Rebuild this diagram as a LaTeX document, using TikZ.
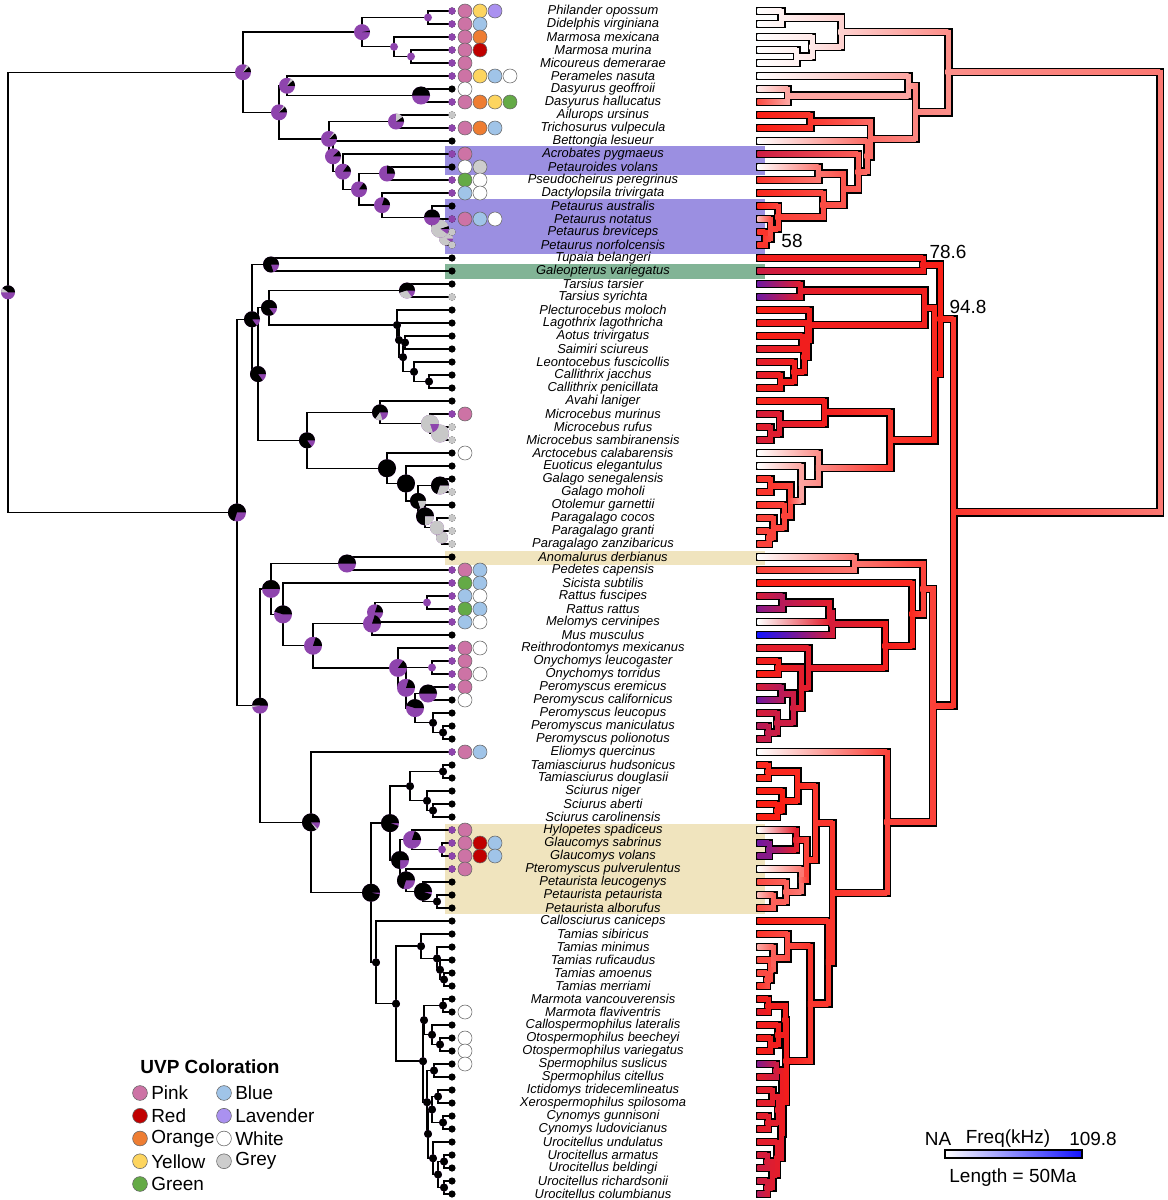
\documentclass[tikz,border=0pt]{standalone}
\usepackage{fontspec}
\setmainfont{Liberation Sans}
\usetikzlibrary{calc}

\definecolor{piepurple}{RGB}{142,68,173}
\definecolor{piegrey}{RGB}{200,200,200}
\definecolor{hred}{RGB}{250,30,20}
\definecolor{hblue}{RGB}{20,20,255}
\definecolor{upink}{RGB}{205,115,165}
\definecolor{ured}{RGB}{192,0,0}
\definecolor{uora}{RGB}{238,125,50}
\definecolor{uyel}{RGB}{253,213,95}
\definecolor{ugreen}{RGB}{100,170,70}
\definecolor{ublue}{RGB}{160,196,232}
\definecolor{ulav}{RGB}{170,145,240}
\definecolor{uwhite}{RGB}{255,255,255}
\definecolor{ugrey}{RGB}{205,205,205}
\definecolor{bandpurple}{RGB}{155,143,225}
\definecolor{bandgreen}{RGB}{130,180,150}
\definecolor{bandtan}{RGB}{240,228,190}

\tikzset{
  branch/.style={line width=1pt, line join=miter},
  treeout/.style={line width=6pt, line cap=rect, line join=miter},
  treein/.style={line width=3.56pt, line cap=rect},
  spname/.style={font=\fontsize{9.2}{11}\selectfont\itshape, inner sep=0pt},
  uvp/.style={draw=black!60, line width=0.4pt},
  lgtext/.style={font=\fontsize{13.5}{16}\selectfont, anchor=west, inner sep=0pt},
  numlab/.style={font=\fontsize{13.5}{16}\selectfont, inner sep=0pt},
}

% heat colour of a branch end: 0 white, 50 red, 100 blue
\newcommand\heat[2]{%
  \ifdim #2pt<50pt
    \pgfmathtruncatemacro\hv{2*#2}%
    \xglobal\colorlet{h#1}{hred!\hv!white}%
  \else
    \pgfmathtruncatemacro\hv{2*(#2-50)}%
    \xglobal\colorlet{h#1}{hblue!\hv!hred}%
  \fi}

% state pie: node, radius (px), black %, grey % (rest purple)
\newcommand\nodepie[4]{%
  \fill[piepurple] (#1) circle[radius=#2*0.25mm];
  \ifdim #3pt>0pt
    \fill[black] (#1) -- ++(0:#2*0.25mm) arc[start angle=0, delta angle=3.6*#3, radius=#2*0.25mm] -- cycle;
  \fi
  \ifdim #4pt>0pt
    \fill[piegrey] (#1) -- ++(3.6*#3:#2*0.25mm) arc[start angle=3.6*#3, delta angle=3.6*#4, radius=#2*0.25mm] -- cycle;
  \fi}

% one internal node: name, x, first child, last child, pie r, black, grey, heat
\newcommand\ndA[8]{%
  \path let \p1=(#3), \p2=(#4) in
    ($(#2,0)+(0pt,{0.5*(\y1+\y2)})$) coordinate (#1)
    ($({760+0.901*(452-#2)},0)+(0pt,{0.5*(\y1+\y2)})$) coordinate (r#1);
  \heat{#1}{#8}}
\newcommand\ndL[8]{\draw[branch] (#1) |- (#3) (#1) |- (#4);}
\newcommand\ndO[8]{\draw[treeout] (r#1) |- (r#3) (r#1) |- (r#4);}
\newcommand\ndI[8]{%
  \draw[treein, h#1] (r#1 |- r#3) -- (r#1 |- r#4);
  \shade[left color=h#3, right color=h#1] ($(r#3)+(-2.6,-2.5)$) rectangle ($(r#1 |- r#3)+(0,2.5)$);
  \shade[left color=h#4, right color=h#1] ($(r#4)+(-2.6,-2.5)$) rectangle ($(r#1 |- r#4)+(0,2.5)$);}
\newcommand\ndP[8]{\nodepie{#1}{#5}{#6}{#7}}

\newcommand\treedata{%
  % marsupials
  \nd{d45}{411}{t4}{t5}{4}{0}{0}{3}
  \nd{d345}{394}{t3}{d45}{4}{0}{0}{5}
  \nd{d12}{428}{t1}{t2}{4}{0}{0}{3}
  \nd{didel}{362}{d12}{d345}{8}{3}{0}{10}
  \nd{dasy}{421}{t7}{t8}{9}{50}{0}{20}
  \nd{peram}{287}{t6}{dasy}{8}{12}{5}{20}
  \nd{phal}{396}{t9}{t10}{8}{10}{15}{45}
  \nd{pet3}{446}{t18}{t19}{7}{0}{90}{45}
  \nd{pet2}{440}{t17}{pet3}{9}{5}{85}{40}
  \nd{pet1}{432}{t16}{pet2}{8}{50}{0}{42}
  \nd{dact}{382}{t15}{pet1}{8}{20}{0}{40}
  \nd{pseu}{387}{t13}{t14}{8}{25}{0}{30}
  \nd{n4}{359}{pseu}{dact}{8}{15}{0}{38}
  \nd{n3}{343}{t12}{n4}{8}{15}{0}{36}
  \nd{n2}{333}{t11}{n3}{8}{12}{0}{33}
  \nd{n1}{329}{phal}{n2}{8}{12}{3}{33}
  \nd{austr}{279}{peram}{n1}{8}{12}{3}{27}
  \nd{mars}{243}{didel}{austr}{8}{12}{5}{25}
  % euarchonta
  \nd{scde}{271}{t20}{t21}{8}{80}{0}{52}
  \nd{tars}{407}{t22}{t23}{8}{55}{30}{55}
  \nd{call}{429}{t29}{t30}{4}{100}{0}{52}
  \nd{calt}{414}{t28}{call}{4}{100}{0}{52}
  \nd{aosa}{405}{t26}{t27}{4}{100}{0}{52}
  \nd{cebi}{403}{aosa}{calt}{4}{100}{0}{52}
  \nd{pla2}{399}{t25}{cebi}{4}{100}{0}{52}
  \nd{plat}{397}{t24}{pla2}{4}{100}{0}{52}
  \nd{hapl}{269}{tars}{plat}{8}{85}{0}{52}
  \nd{mic2}{440}{t33}{t34}{9}{0}{100}{56}
  \nd{micr}{430}{t32}{mic2}{9}{0}{80}{56}
  \nd{lemu}{380}{t31}{micr}{8}{65}{15}{52}
  \nd{par2}{442}{t41}{t42}{6}{0}{100}{42}
  \nd{para}{437}{t40}{par2}{7}{0}{100}{42}
  \nd{g3}{425}{t39}{para}{9}{75}{25}{42}
  \nd{gala}{440}{t37}{t38}{9}{70}{30}{45}
  \nd{g2}{418}{gala}{g3}{8}{80}{20}{42}
  \nd{g1}{406}{t36}{g2}{9}{100}{0}{20}
  \nd{lori}{387}{t35}{g1}{9}{100}{0}{25}
  \nd{stre}{307}{lemu}{lori}{8}{85}{0}{45}
  \nd{prim}{258}{hapl}{stre}{8}{85}{0}{48}
  \nd{euar}{252}{scde}{prim}{8}{85}{0}{50}
  % glires
  \nd{anpe}{347}{t43}{t44}{9}{50}{0}{30}
  \nd{ratt}{427}{t46}{t47}{4}{0}{0}{65}
  \nd{rame}{375}{ratt}{t48}{8}{20}{0}{55}
  \nd{muri}{372}{rame}{t49}{9}{20}{0}{58}
  \nd{onyc}{432}{t51}{t52}{4}{0}{0}{52}
  \nd{peca}{428}{t53}{t54}{9}{50}{0}{65}
  \nd{pem2}{443}{t56}{t57}{4}{100}{0}{62}
  \nd{pem1}{433}{t55}{pem2}{4}{100}{0}{60}
  \nd{pero}{415}{peca}{pem1}{9}{45}{0}{60}
  \nd{onpe}{406}{onyc}{pero}{9}{20}{0}{55}
  \nd{neot}{398}{t50}{onpe}{9}{15}{0}{55}
  \nd{muro}{313}{muri}{neot}{9}{20}{0}{52}
  \nd{myom}{283}{t45}{muro}{9}{45}{0}{48}
  \nd{rod1}{271}{anpe}{myom}{9}{50}{0}{42}
  \nd{tami}{443}{t59}{t60}{4}{100}{0}{48}
  \nd{sci2}{433}{t62}{t63}{4}{100}{0}{50}
  \nd{sciu}{427}{t61}{sci2}{4}{100}{0}{50}
  \nd{tree}{410}{tami}{sciu}{4}{100}{0}{48}
  \nd{glau}{442}{t65}{t66}{4}{0}{0}{75}
  \nd{hygl}{412}{t64}{glau}{9}{20}{0}{55}
  \nd{pta2}{437}{t69}{t70}{4}{100}{0}{35}
  \nd{ptau}{423}{t68}{pta2}{9}{95}{0}{35}
  \nd{ptpe}{406}{t67}{ptau}{9}{70}{0}{30}
  \nd{flyi}{400}{hygl}{ptpe}{9}{75}{0}{42}
  \nd{scin}{390}{tree}{flyi}{9}{95}{0}{45}
  \nd{ta4}{444}{t75}{t76}{4}{100}{0}{40}
  \nd{ta3}{440}{t74}{ta4}{4}{100}{0}{40}
  \nd{ta2}{437}{t73}{ta3}{4}{100}{0}{35}
  \nd{tam1}{421}{t72}{ta2}{4}{100}{0}{40}
  \nd{marm}{443}{t77}{t78}{4}{100}{0}{52}
  \nd{otos}{440}{t80}{t81}{4}{100}{0}{52}
  \nd{caot}{432}{t79}{otos}{4}{100}{0}{52}
  \nd{ma}{424}{marm}{caot}{4}{100}{0}{52}
  \nd{sper}{434}{t82}{t83}{4}{100}{0}{60}
  \nd{ixer}{438}{t84}{t85}{4}{100}{0}{55}
  \nd{cyno}{443}{t86}{t87}{4}{100}{0}{55}
  \nd{icx}{432}{ixer}{cyno}{4}{100}{0}{55}
  \nd{uro3}{444}{t89}{t90}{4}{100}{0}{58}
  \nd{uro4}{444}{t91}{t92}{4}{100}{0}{58}
  \nd{uro2}{438}{uro3}{uro4}{4}{100}{0}{56}
  \nd{uro}{433}{t88}{uro2}{4}{100}{0}{55}
  \nd{mc}{428}{icx}{uro}{4}{100}{0}{55}
  \nd{mb}{427}{sper}{mc}{4}{100}{0}{53}
  \nd{mtna}{423}{ma}{mb}{4}{100}{0}{52}
  \nd{mrti}{396}{tam1}{mtna}{4}{100}{0}{45}
  \nd{xeca}{376}{t71}{mrti}{4}{100}{0}{45}
  \nd{scdd}{371}{scin}{xeca}{9}{97}{0}{45}
  \nd{scmo}{311}{t58}{scdd}{9}{85}{3}{42}
  \nd{glir}{260}{rod1}{scmo}{8}{50}{3}{42}
  \nd{eaog}{237}{euar}{glir}{9}{70}{0}{45}
  \nd{root}{8}{mars}{eaog}{7}{40}{10}{30}
}

\begin{document}
\begin{tikzpicture}[x=0.25mm, y=-0.25mm]
\useasboundingbox (0,0) rectangle (1168,1200);

% highlighted gliders
\fill[bandpurple] (445,146) rectangle (765,175);
\fill[bandpurple] (445,199) rectangle (765,254);
\fill[bandgreen] (445,264) rectangle (765,279);
\fill[bandtan] (445,551) rectangle (765,565);
\fill[bandtan] (445,824) rectangle (765,914);

% tips and names
\foreach \nm [count=\i] in {Philander opossum, Didelphis virginiana, Marmosa mexicana,
  Marmosa murina, Micoureus demerarae, Perameles nasuta, Dasyurus geoffroii,
  Dasyurus hallucatus, Ailurops ursinus, Trichosurus vulpecula, Bettongia lesueur,
  Acrobates pygmaeus, Petauroides volans, Pseudocheirus peregrinus,
  Dactylopsila trivirgata, Petaurus australis, Petaurus notatus, Petaurus breviceps,
  Petaurus norfolcensis, Tupaia belangeri, Galeopterus variegatus, Tarsius tarsier,
  Tarsius syrichta, Plecturocebus moloch, Lagothrix lagothricha, Aotus trivirgatus,
  Saimiri sciureus, Leontocebus fuscicollis, Callithrix jacchus, Callithrix penicillata,
  Avahi laniger, Microcebus murinus, Microcebus rufus, Microcebus sambiranensis,
  Arctocebus calabarensis, Euoticus elegantulus, Galago senegalensis, Galago moholi,
  Otolemur garnettii, Paragalago cocos, Paragalago granti, Paragalago zanzibaricus,
  Anomalurus derbianus, Pedetes capensis, Sicista subtilis, Rattus fuscipes,
  Rattus rattus, Melomys cervinipes, Mus musculus, Reithrodontomys mexicanus,
  Onychomys leucogaster, Onychomys torridus, Peromyscus eremicus,
  Peromyscus californicus, Peromyscus leucopus, Peromyscus maniculatus,
  Peromyscus polionotus, Eliomys quercinus, Tamiasciurus hudsonicus,
  Tamiasciurus douglasii, Sciurus niger, Sciurus aberti, Sciurus carolinensis,
  Hylopetes spadiceus, Glaucomys sabrinus, Glaucomys volans, Pteromyscus pulverulentus,
  Petaurista leucogenys, Petaurista petaurista, Petaurista alborufus,
  Callosciurus caniceps, Tamias sibiricus, Tamias minimus, Tamias ruficaudus,
  Tamias amoenus, Tamias merriami, Marmota vancouverensis, Marmota flaviventris,
  Callospermophilus lateralis, Otospermophilus beecheyi, Otospermophilus variegatus,
  Spermophilus suslicus, Spermophilus citellus, Ictidomys tridecemlineatus,
  Xerospermophilus spilosoma, Cynomys gunnisoni, Cynomys ludovicianus,
  Urocitellus undulatus, Urocitellus armatus, Urocitellus beldingi,
  Urocitellus richardsonii, Urocitellus columbianus}{
  \pgfmathtruncatemacro\ty{11+13*(\i-1)}
  \coordinate (t\i) at (452,\ty);
  \coordinate (rt\i) at (760,\ty);
  \node[spname] (sp\i) at (603,\ty) {\nm};
}

% frequency at the tips
\foreach \hval [count=\i] in {0,0,0,0,0,0,5,40,50,50, 0,60,0,45,48,48,15,45,45,52,
  60,80,80,50,52,50,55,55,55,52, 48,58,55,58,0,0,45,45,45,42,
  42,42,0,42,50,58,75,0,100,55, 52,50,58,80,58,65,60,0,48,48,
  50,50,50,0,80,75,0,40,15,40, 50,45,20,40,40,45,52,55,52,52,
  50,75,55,55,55,55,55,55,58,60, 60,65}{\heat{t\i}{\hval}}

% tree: nodes, left branches, right heat tree, pies
\let\nd\ndA \treedata
\let\nd\ndL \treedata
\let\nd\ndO \treedata
\let\nd\ndI \treedata
\let\nd\ndP \treedata

% tip states
\foreach \i in {1,...,92} \fill[black] (t\i) circle[radius=0.9mm];
\foreach \i in {1,2,3,4,5,6,8,10,12,14,15,17,32,44,45,46,47,48,50,51,52,53,58,64,65,66,67}
  \fill[piepurple] (t\i) circle[radius=0.9mm];
\foreach \i in {9,18,19,23,33,34,38,40,41,42}
  \fill[piegrey] (t\i) circle[radius=0.9mm];

% UVP colours per species
\foreach \i/\cs in {1/{upink,uyel,ulav}, 2/{upink,ublue}, 3/{upink,uora}, 4/{upink,ured},
  5/{upink}, 6/{upink,uyel,ublue,uwhite}, 7/{uwhite}, 8/{upink,uora,uyel,ugreen},
  10/{upink,uora,ublue}, 12/{upink}, 13/{uwhite,ugrey}, 14/{ugreen,uwhite},
  15/{ublue,uwhite}, 17/{upink,ublue,uwhite}, 32/{upink}, 35/{uwhite},
  44/{upink,ublue}, 45/{ugreen,ublue}, 46/{ublue,uwhite}, 47/{ugreen,ublue},
  48/{ublue,uwhite}, 50/{upink,uwhite}, 51/{upink}, 52/{upink,uwhite}, 53/{upink},
  54/{uwhite}, 58/{upink,ublue}, 64/{upink}, 65/{upink,ured,ublue},
  66/{upink,ured,ublue}, 67/{upink}, 78/{uwhite}, 80/{uwhite}, 81/{uwhite}, 82/{uwhite}}{
  \foreach \uc [count=\k] in \cs
    \filldraw[uvp, fill=\uc] ($(t\i)+({13+15*(\k-1)},0)$) circle[radius=1.75mm];
}

% node ages
\node[numlab] (age58) at (792,241) {58};
\node[numlab] (age786) at (948,252) {78.6};
\node[numlab] (age948) at (968,307) {94.8};

% legend
\node[font=\fontsize{13.5}{16}\selectfont\bfseries, inner sep=0pt] (lgtitle) at (210,1067) {UVP Coloration};
\foreach \uc/\ut [count=\k] in {upink/Pink, ured/Red, uora/Orange, uyel/Yellow, ugreen/Green}{
  \pgfmathsetmacro\ly{1093+22.75*(\k-1)}
  \filldraw[uvp, fill=\uc] (140,\ly) circle[radius=1.85mm];
  \node[lgtext] (lga\k) at (151,\ly) {\ut};
}
\foreach \uc/\ut [count=\k] in {ublue/Blue, ulav/Lavender, uwhite/White, ugrey/Grey}{
  \pgfmathsetmacro\ly{1093+22.75*(\k-1)}
  \filldraw[uvp, fill=\uc] (224,\ly) circle[radius=1.85mm];
  \node[lgtext] (lgb\k) at (235,\ly) {\ut};
}

% colour bar
\shade[left color=white, middle color=hred, right color=hblue] (945,1150) rectangle (1082,1158);
\draw[line width=0.8pt] (945,1150) rectangle (1082,1158);
\node[numlab] (cbna) at (938,1139) {NA};
\node[numlab] (cbfreq) at (1008,1139) {Freq(kHz)};
\node[numlab] (cbmax) at (1093,1139) {109.8};
\node[numlab] (cblen) at (1013,1178) {Length = 50Ma};
\end{tikzpicture}
\end{document}
